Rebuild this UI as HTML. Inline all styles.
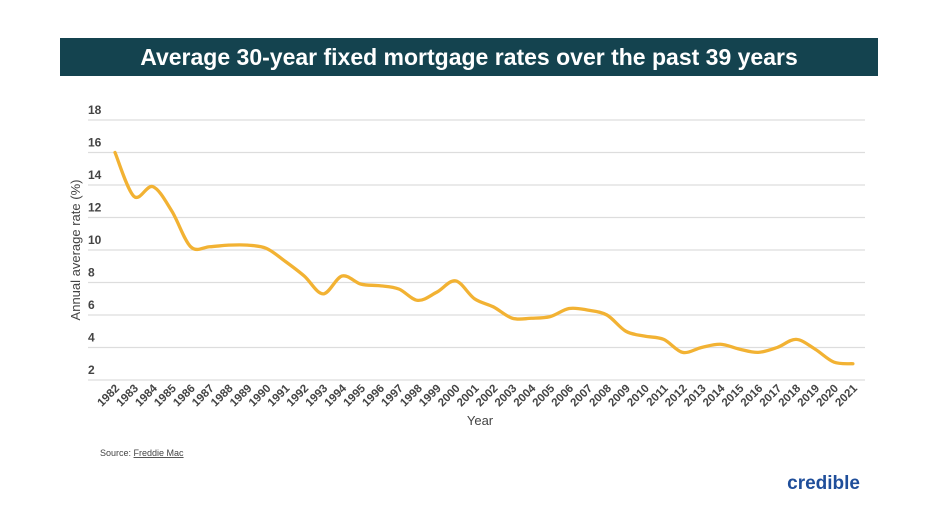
<!DOCTYPE html>
<html><head><style>
body{margin:0;background:#fff;width:932px;height:524px;overflow:hidden;font-family:"Liberation Sans",sans-serif}
</style></head><body>
<svg width="932" height="524" xmlns="http://www.w3.org/2000/svg" id="s">
<rect x="60" y="38" width="818" height="38" fill="#14434f"/>
<text x="469" y="65" text-anchor="middle" fill="#fff" font-size="23" font-weight="bold" font-family="Liberation Sans, sans-serif">Average 30-year fixed mortgage rates over the past 39 years</text>
<g id="grid"></g>
<text transform="translate(80,250) rotate(-90)" text-anchor="middle" font-size="13" fill="#444">Annual average rate (%)</text>
<text x="480" y="425" text-anchor="middle" font-size="13" fill="#444">Year</text>
<text x="100" y="456" font-size="9" fill="#444">Source: <tspan text-decoration="underline">Freddie Mac</tspan></text>
<text x="860" y="489" text-anchor="end" font-size="19" font-weight="bold" fill="#1f4e9a">credible</text>
<path id="line" fill="none" stroke="#f2b233" stroke-width="3.3" stroke-linejoin="round" stroke-linecap="round"/>
</svg>
<script>
var ns="http://www.w3.org/2000/svg",g=document.getElementById('grid');
function Y(v){return 380-(v-2)*16.25}
function X(i){return 115+i*18.92}
for(var v=2;v<=18;v+=2){
 var l=document.createElementNS(ns,'line');l.setAttribute('x1',88);l.setAttribute('x2',865);
 l.setAttribute('y1',Y(v));l.setAttribute('y2',Y(v));l.setAttribute('stroke','#ddd');l.setAttribute('stroke-width','1.2');g.appendChild(l);
 var t=document.createElementNS(ns,'text');t.setAttribute('x',88);t.setAttribute('y',Y(v)-6);t.setAttribute('font-size','12');t.setAttribute('font-weight','bold');t.setAttribute('fill','#444');t.textContent=v;g.appendChild(t);
}
var d=[16.0,13.3,13.9,12.4,10.2,10.2,10.3,10.3,10.1,9.3,8.4,7.3,8.4,7.9,7.8,7.6,6.9,7.4,8.1,7.0,6.5,5.8,5.8,5.9,6.4,6.3,6.0,5.0,4.7,4.5,3.7,4.0,4.2,3.9,3.7,4.0,4.5,3.9,3.1,3.0];
for(var i=0;i<d.length;i++){
 var t=document.createElementNS(ns,'text');var x=X(i)+5,y=389;
 t.setAttribute('transform','translate('+x+','+y+') rotate(-45)');t.setAttribute('text-anchor','end');
 t.setAttribute('font-size','11.5');t.setAttribute('font-weight','bold');t.setAttribute('fill','#444');t.textContent=1982+i;g.appendChild(t);
}
var p=d.map(function(v,i){return [X(i),Y(v)]});
var s='M'+p[0][0]+','+p[0][1];
for(var i=0;i<p.length-1;i++){
 var p0=p[i-1]||p[i],p1=p[i],p2=p[i+1],p3=p[i+2]||p2;
 s+=' C'+(p1[0]+(p2[0]-p0[0])/6)+','+(p1[1]+(p2[1]-p0[1])/6)+' '+(p2[0]-(p3[0]-p1[0])/6)+','+(p2[1]-(p3[1]-p1[1])/6)+' '+p2[0]+','+p2[1];
}
document.getElementById('line').setAttribute('d',s);
</script>
</body></html>
